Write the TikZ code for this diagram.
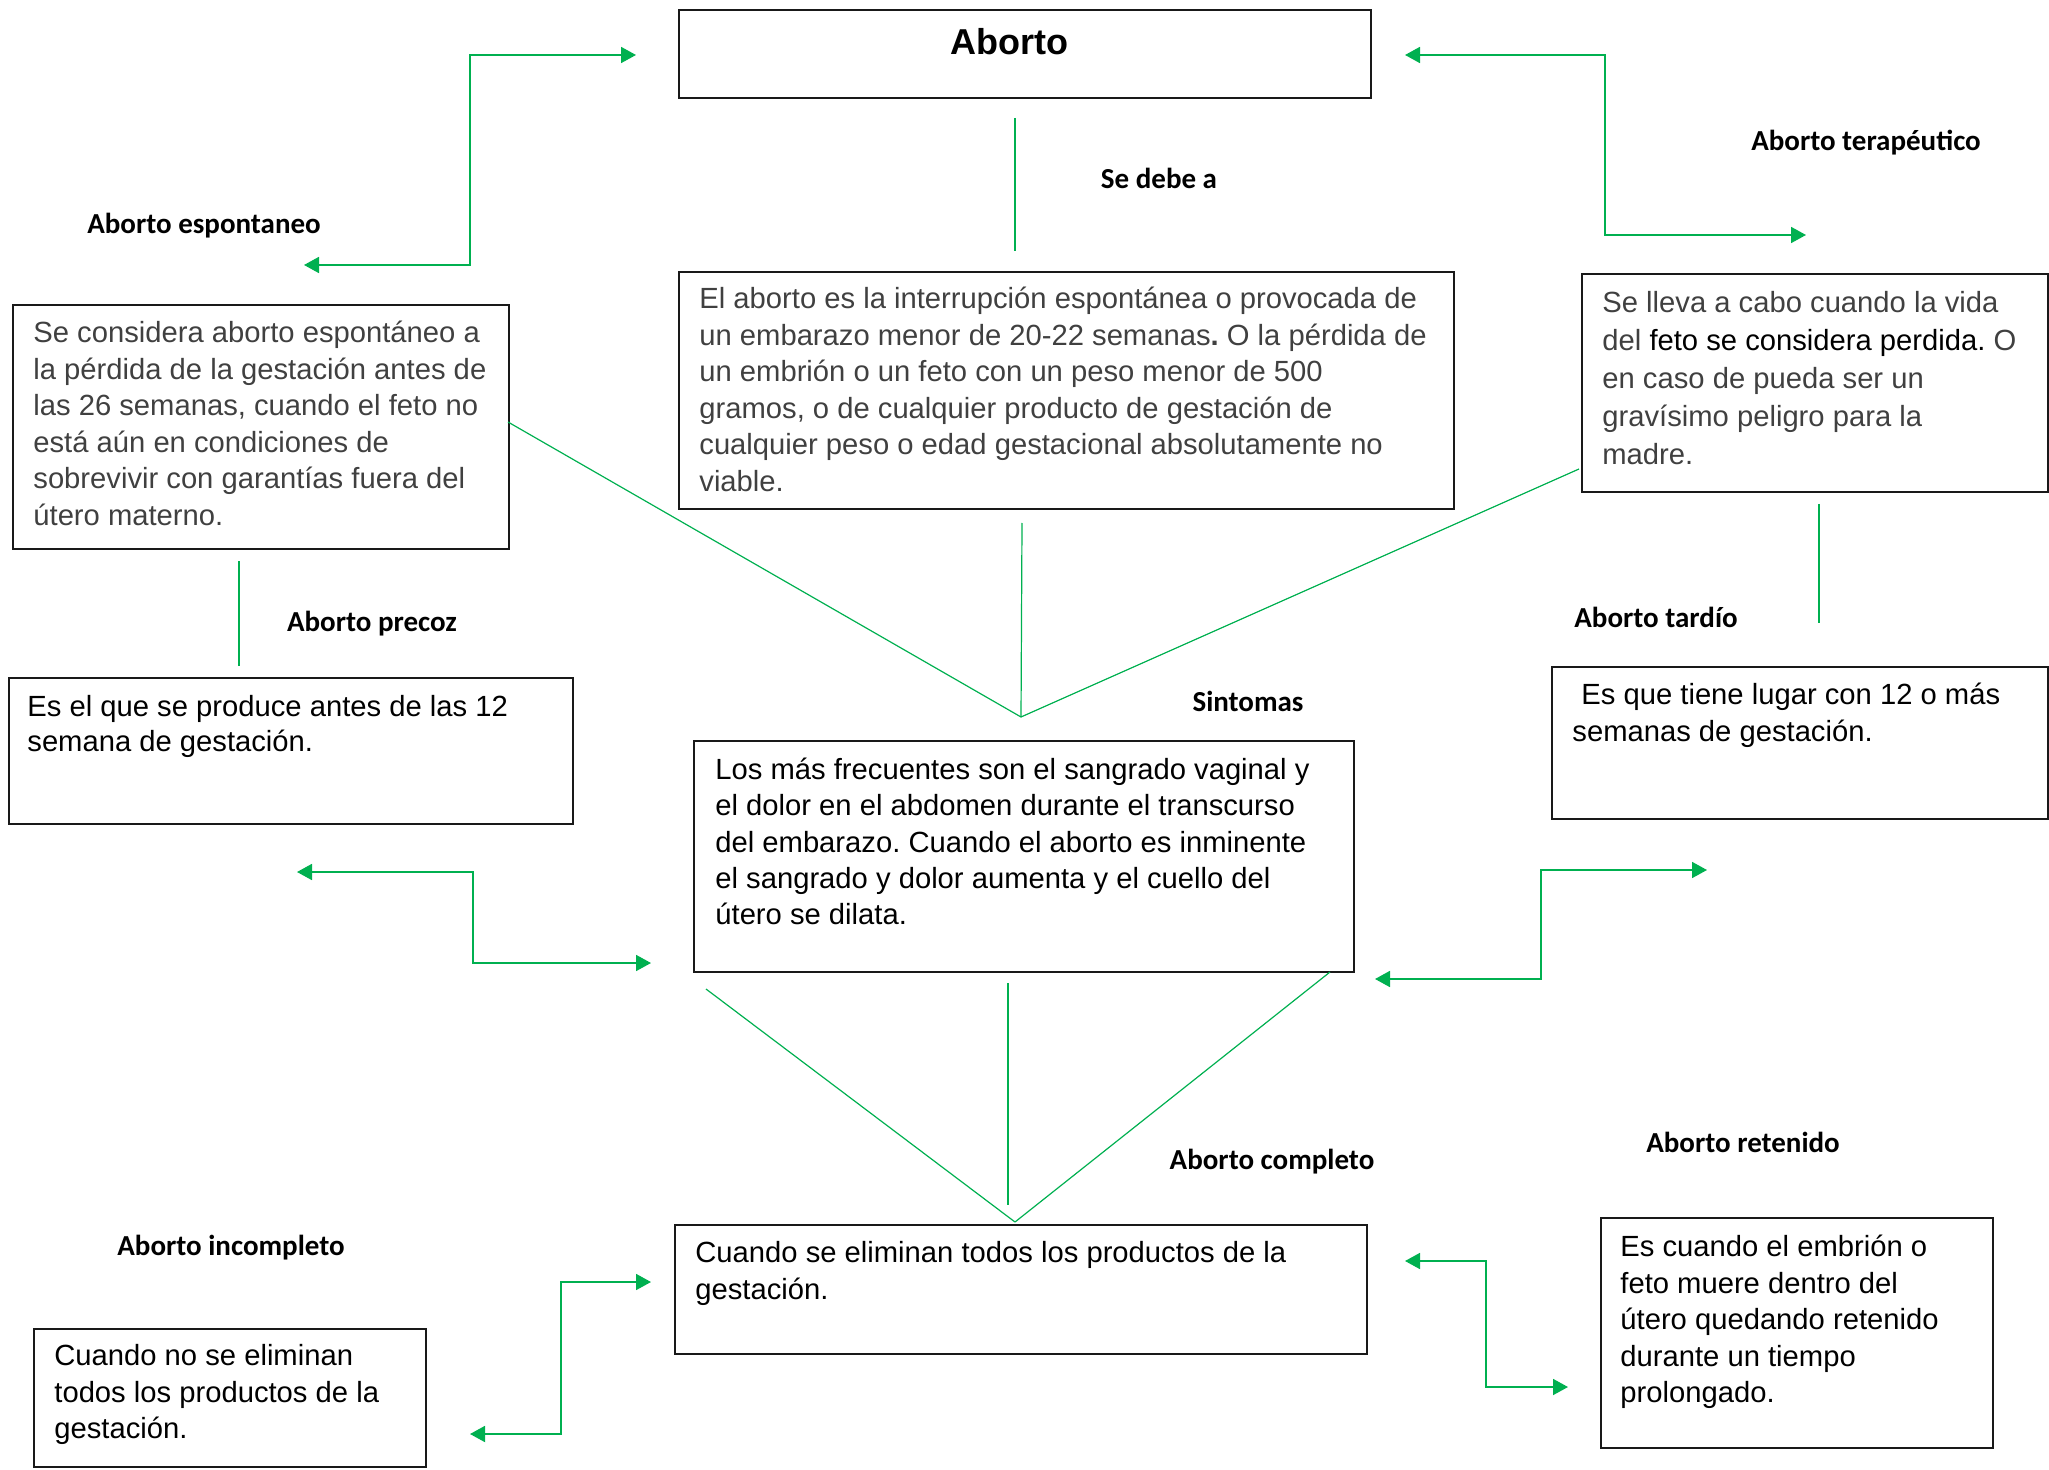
\documentclass[tikz,border=0pt]{standalone}
\usepackage{fontspec}
\setmainfont{Liberation Sans}
\newfontfamily\bodyf{Liberation Sans}
\newfontfamily\labf{Carlito}
\usetikzlibrary{arrows.meta,calc}
\definecolor{ogreen}{HTML}{00B050}
\definecolor{dgray}{HTML}{404040}
\frenchspacing
\begin{document}
\begin{tikzpicture}[x=0.5pt,y=-0.5pt,
  box/.style={draw=black!90, line width=1pt, inner sep=0pt, anchor=north west},
  txt/.style={anchor=north west, inner sep=0pt, align=left, font=\bodyf\fontsize{14.6}{#1}\selectfont},
  txt/.default=18.3,
  lab/.style={font=\labf\bfseries\fontsize{14.5}{17}\selectfont, inner sep=0pt},
  conn/.style={draw=ogreen, line width=0.6pt},
  garrow/.style={draw=ogreen, line width=0.9pt, {Triangle[length=7.5pt,width=8pt]}-{Triangle[length=7.5pt,width=8pt]}},
]
\useasboundingbox (0,0) rectangle (2049,1470);

% boxes
\node[box, minimum width=346pt, minimum height=44pt] (aborto) at (678,9) {};
\node[font=\bfseries\fontsize{18}{22}\selectfont, inner sep=0pt] (abortoT) at (1009,42) {Aborto};

\node[box, minimum width=387.5pt, minimum height=118.5pt] (def) at (678,271) {};
\node[txt, text=dgray] (defT) at (699,282.4) {\strut El aborto es la interrupción espontánea o provocada de\\
un embarazo menor de 20-22 semanas{\bfseries .} O la pérdida de\\
un embrión o un feto con un peso menor de 500\\
gramos, o de cualquier producto de gestación de\\
cualquier peso o edad gestacional absolutamente no\\
viable.};

\node[box, minimum width=248pt, minimum height=122pt] (esp) at (12,304) {};
\node[txt, text=dgray] (espT) at (33,316.4) {\strut Se considera aborto espontáneo a\\
la pérdida de la gestación antes de\\
las 26 semanas, cuando el feto no\\
está aún en condiciones de\\
sobrevivir con garantías fuera del\\
útero materno.};

\node[box, minimum width=233pt, minimum height=109pt] (ter) at (1581,273) {};
\node[txt=18.95, text=dgray] (terT) at (1602,285.5) {\strut Se lleva a cabo cuando la vida\\
del {\color{black}feto se considera perdida.} O\\
en caso de pueda ser un\\
gravísimo peligro para la\\
madre.};

\node[box, minimum width=282pt, minimum height=73pt] (precoz) at (8,677) {};
\node[txt=17.65] (precozT) at (27,691.3) {\strut Es el que se produce antes de las 12\\
semana de gestación.};

\node[box, minimum width=248pt, minimum height=76pt] (tardio) at (1551,666) {};
\node[txt] (tardioT) at (1572,678.4) {\strut\hspace{4.5pt}Es que tiene lugar con 12 o más\\
semanas de gestación.};

\node[box, minimum width=330pt, minimum height=115.5pt] (sint) at (693,740) {};
\node[txt=18.15] (sintT) at (715,753.6) {\strut Los más frecuentes son el sangrado vaginal y\\
el dolor en el abdomen durante el transcurso\\
del embarazo. Cuando el aborto es inminente\\
el sangrado y dolor aumenta y el cuello del\\
útero se dilata.};

\node[box, minimum width=346pt, minimum height=64.5pt] (compl) at (674,1224) {};
\node[txt] (complT) at (695,1236.4) {\strut Cuando se eliminan todos los productos de la\\
gestación.};

\node[box, minimum width=196pt, minimum height=69pt] (incompl) at (33,1328) {};
\node[txt] (incomplT) at (54,1339.4) {\strut Cuando no se eliminan\\
todos los productos de la\\
gestación.};

\node[box, minimum width=196pt, minimum height=115pt] (ret) at (1600,1217) {};
\node[txt] (retT) at (1620,1230.4) {\strut Es cuando el embrión o\\
feto muere dentro del\\
útero quedando retenido\\
durante un tiempo\\
prolongado.};

% labels
\node[lab] (espL) at (204,225.5) {Aborto espontaneo};
\node[lab] (debeL) at (1159,178.5) {Se debe a};
\node[lab] (terL) at (1866,142.5) {Aborto terapéutico};
\node[lab] (precozL) at (372,623.5) {Aborto precoz};
\node[lab] (tardioL) at (1656,617.5) {Aborto tardío};
\node[lab] (sintL) at (1248,701.5) {Sintomas};
\node[lab] (complL) at (1272,1161.5) {Aborto completo};
\node[lab] (incomplL) at (231,1247.5) {Aborto incompleto};
\node[lab] (retL) at (1743,1142.5) {Aborto retenido};

% plain connector end points
\coordinate (a1) at (1015,118);
\coordinate (a2) at (1015,251);
\coordinate (hub1) at (1021,717);
\coordinate (e1) at (508,422);
\coordinate (d1) at (1022,523);
\coordinate (t1) at (1579,469);
\coordinate (hub2) at (1015,1222);
\coordinate (s1) at (706,989);
\coordinate (s2) at (1008,983);
\coordinate (s3) at (1008,1205);
\coordinate (s4) at (1330,972);
\coordinate (p1) at (239,561);
\coordinate (p2) at (239,666);
\coordinate (r1) at (1819,504);
\coordinate (r2) at (1819,623);

\draw[conn] (a1) -- (a2);
\draw[conn] (e1) -- (hub1);
\draw[conn] (d1) -- (hub1);
\draw[conn] (t1) -- (hub1);
\draw[conn] (s1) -- (hub2);
\draw[conn] (s2) -- (s3);
\draw[conn] (s4) -- (hub2);
\draw[conn] (p1) -- (p2);
\draw[conn] (r1) -- (r2);

% elbow arrows
\coordinate (g1a) at (304,265); \coordinate (g1m) at (470,0); \coordinate (g1b) at (636,55);
\coordinate (g2a) at (1405,55); \coordinate (g2m) at (1605,0); \coordinate (g2b) at (1806,235);
\coordinate (g3a) at (297,872); \coordinate (g3m) at (473,0); \coordinate (g3b) at (651,963);
\coordinate (g4a) at (1375,979); \coordinate (g4m) at (1541,0); \coordinate (g4b) at (1707,870);
\coordinate (g5a) at (470,1434); \coordinate (g5m) at (561,0); \coordinate (g5b) at (651,1282);
\coordinate (g6a) at (1405,1261); \coordinate (g6m) at (1486,0); \coordinate (g6b) at (1568,1387);

\draw[garrow] (g1a) -- (g1a -| g1m) |- (g1b);
\draw[garrow] (g2a) -- (g2a -| g2m) |- (g2b);
\draw[garrow] (g3a) -- (g3a -| g3m) |- (g3b);
\draw[garrow] (g4a) -- (g4a -| g4m) |- (g4b);
\draw[garrow] (g5a) -- (g5a -| g5m) |- (g5b);
\draw[garrow] (g6a) -- (g6a -| g6m) |- (g6b);
\end{tikzpicture}
\end{document}
